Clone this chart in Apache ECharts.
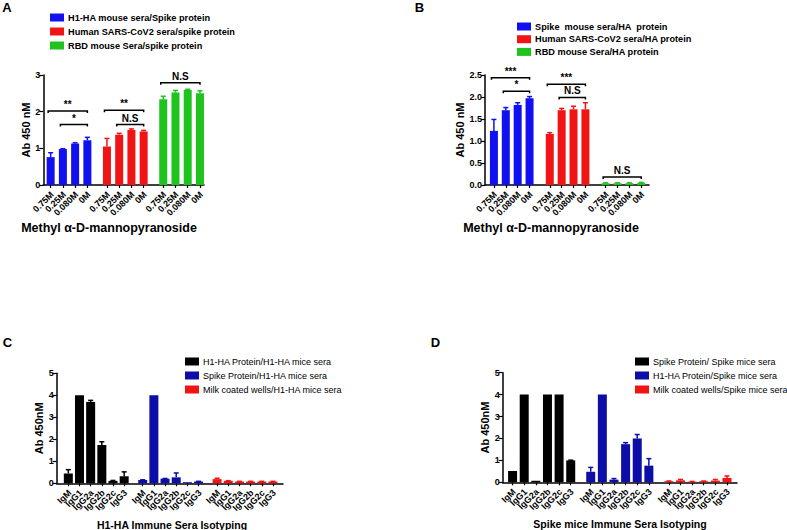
<!DOCTYPE html>
<html><head><meta charset="utf-8">
<script src="https://cdn.jsdelivr.net/npm/echarts@6/dist/echarts.min.js"></script>
<style>html,body{margin:0;padding:0;background:#fff}#c{width:787px;height:530px}</style>
</head><body><div id="c"></div>
<script>
// ---------- shared category labels ----------
const concLabels = ['0.75M', '0.25M', '0.080M', '0M'];
const isoLabels = ['IgM', 'IgG1', 'IgG2a', 'IgG2b', 'IgG2c', 'IgG3'];

// ---------- Panel A ----------
const aNames = ['H1-HA mouse sera/Spike protein', 'Human SARS-CoV2 sera/spike protein', 'RBD mouse Sera/spike protein'];
const aH1 = [0.76, 0.98, 1.13, 1.22];
const aH1Err = [0.12, 0.01, 0.02, 0.08];
const aHuman = [1.05, 1.37, 1.50, 1.46];
const aHumanErr = [0.22, 0.04, 0.03, 0.03];
const aRBD = [2.34, 2.52, 2.59, 2.50];
const aRBDErr = [0.08, 0.06, 0.02, 0.07];
const aSig = [[0, 0, 3, 2.02], [0, 1, 3, 1.65], [1, 0, 3, 2.04], [1, 1, 3, 1.65], [2, 0, 3, 2.79]];
const aSigText = ['**', '*', '**', 'N.S', 'N.S'];

// ---------- Panel B ----------
const bNames = ['Spike  mouse sera/HA  protein', 'Human SARS-CoV2 sera/HA protein', 'RBD mouse Sera/HA protein'];
const bSpike = [1.23, 1.70, 1.82, 1.97];
const bSpikeErr = [0.26, 0.06, 0.05, 0.04];
const bHuman = [1.16, 1.70, 1.72, 1.72];
const bHumanErr = [0.03, 0.04, 0.07, 0.15];
const bRBD = [0.04, 0.04, 0.04, 0.05];
const bRBDErr = [0.01, 0.01, 0.01, 0.01];
const bSig = [[0, 0, 3, 2.44], [0, 1, 3, 2.13], [1, 0, 3, 2.29], [1, 1, 3, 1.99], [2, 0, 3, 0.18]];
const bSigText = ['***', '*', '***', 'N.S', 'N.S'];

// ---------- Panel C ----------
const cNames = ['H1-HA Protein/H1-HA mice sera', 'Spike Protein/H1-HA mice sera', 'Milk coated wells/H1-HA mice sera'];
const cH1 = [0.45, 4.0, 3.70, 1.74, 0.11, 0.32];
const cH1Err = [0.17, 0, 0.07, 0.15, 0.02, 0.20];
const cSpike = [0.15, 4.0, 0.21, 0.27, 0.05, 0.08];
const cSpikeErr = [0.01, 0, 0.01, 0.20, 0, 0.01];
const cMilk = [0.19, 0.11, 0.08, 0.08, 0.08, 0.08];
const cMilkErr = [0.04, 0.01, 0.01, 0.01, 0.01, 0.01];

// ---------- Panel D ----------
const dNames = ['Spike Protein/ Spike mice sera', 'H1-HA Protein/Spike mice sera', 'Milk coated wells/Spike mice sera'];
const dSpike = [0.51, 4.0, 0.07, 4.0, 4.0, 1.0];
const dSpikeErr = [0, 0, 0, 0, 0, 0.01];
const dH1 = [0.48, 4.0, 0.12, 1.74, 2.0, 0.76];
const dH1Err = [0.20, 0, 0.05, 0.07, 0.18, 0.32];
const dMilk = [0.05, 0.09, 0.03, 0.05, 0.08, 0.20];
const dMilkErr = [0.01, 0.04, 0.01, 0.01, 0.05, 0.09];

// ---------- texts ----------
const panelLetters = ['A', 'B', 'C', 'D'];
const xTitles = ['Methyl \u03b1-D-mannopyranoside', 'Methyl \u03b1-D-mannopyranoside', 'H1-HA Immune Sera Isotyping', 'Spike mice Immune Sera Isotyping'];
const yTitles = ['Ab 450 nM', 'Ab 450 nM', 'Ab 450nM', 'Ab 450nM'];

const FONT = '"Liberation Sans", Arial, Helvetica, sans-serif';
const BLUE = '#1010f0', RED = '#f01414', GREEN = '#1ec31e', DBLUE = '#0d0da8', BLACK = '#000000';

// ---------- layout per panel (styles only) ----------
const panels = [
  { grid: { left: 43.3, top: 75, width: 160.7, height: 110 }, padStart: 0.6, gap: 1.6, padEnd: 0.33,
    labels: concLabels, names: aNames, colors: [BLUE, RED, GREEN],
    values: [aH1, aHuman, aRBD], errs: [aH1Err, aHumanErr, aRBDErr],
    sig: aSig, sigText: aSigText, yMax: 3, yInt: 1, yDec: 0, barW: 8, nameGap: 12,
    legend: { left: 50, top: 13, itemGap: 5, bold: true },
    letter: [7, 7.5], title: [109, 228, 12.5] },
  { grid: { left: 485, top: 75, width: 164, height: 110 }, padStart: 0.75, gap: 1.7, padEnd: 0.65,
    labels: concLabels, names: bNames, colors: [BLUE, RED, GREEN],
    values: [bSpike, bHuman, bRBD], errs: [bSpikeErr, bHumanErr, bRBDErr],
    sig: bSig, sigText: bSigText, yMax: 2.5, yInt: 0.5, yDec: 1, barW: 8, nameGap: 18,
    legend: { left: 517, top: 22, itemGap: 3.7, bold: true },
    letter: [419.5, 7.5], title: [551, 228, 12.5] },
  { grid: { left: 56.7, top: 373.3, width: 226.3, height: 110 }, padStart: 1.04, gap: 1.66, padEnd: 0.9,
    labels: isoLabels, names: cNames, colors: [BLACK, DBLUE, RED],
    values: [cH1, cSpike, cMilk], errs: [cH1Err, cSpikeErr, cMilkErr],
    sig: [], sigText: [], yMax: 5, yInt: 1, yDec: 0, barW: 9, nameGap: 11,
    legend: { left: 185, top: 357, itemGap: 5, bold: false },
    letter: [7.5, 342], title: [172, 524.5, 10.5] },
  { grid: { left: 502.7, top: 372.7, width: 234.3, height: 109.6 }, padStart: 0.85, gap: 1.72, padEnd: 0.86,
    labels: isoLabels, names: dNames, colors: [BLACK, DBLUE, RED],
    values: [dSpike, dH1, dMilk], errs: [dSpikeErr, dH1Err, dMilkErr],
    sig: [], sigText: [], yMax: 5, yInt: 1, yDec: 0, barW: 9, nameGap: 12,
    legend: { left: 635, top: 357, itemGap: 5, bold: false },
    letter: [435.5, 342.5], title: [620, 523.5, 10.5] }
];

const option = { animation: false, grid: [], xAxis: [], yAxis: [], series: [], legend: [], graphic: [] };

panels.forEach((p, k) => {
  const n = p.labels.length;
  const step = n - 1 + p.gap;
  const pos = (g, i) => +(g * step + i).toFixed(4);
  const allPos = [], labelData = [];
  for (let g = 0; g < 3; g++) for (let i = 0; i < n; i++) {
    const x = pos(g, i); allPos.push(x); labelData.push([x, 0, i]);
  }
  option.grid.push(Object.assign({ containLabel: false }, p.grid));
  option.xAxis.push({
    type: 'value', gridIndex: k, min: -p.padStart, max: pos(2, n - 1) + p.padEnd,
    splitLine: { show: false },
    axisLine: { show: true, onZero: false, lineStyle: { color: '#000', width: 1.5 } },
    axisTick: { show: true, customValues: allPos, length: 3, lineStyle: { color: '#000', width: 1.2 } },
    axisLabel: { show: false }
  });
  option.yAxis.push({
    type: 'value', gridIndex: k, min: 0, max: p.yMax, interval: p.yInt,
    name: yTitles[k], nameLocation: 'middle', nameGap: p.nameGap,
    nameTextStyle: { fontSize: 11, fontWeight: 'bold', fontFamily: FONT, color: '#000' },
    splitLine: { show: false },
    axisLine: { show: true, onZero: false, lineStyle: { color: '#000', width: 1.5 } },
    axisTick: { show: true, length: 4, lineStyle: { color: '#000', width: 1.2 } },
    axisLabel: { margin: 3, color: '#000', fontSize: 9, fontWeight: 'bold', fontFamily: FONT,
      showMinLabel: true, showMaxLabel: true,
      formatter: v => (+v).toFixed(p.yDec) }
  });
  // rotated category labels, placed through the x scale
  const labs = p.labels;
  option.series.push({
    type: 'custom', xAxisIndex: k, yAxisIndex: k, silent: true, z: 5, clip: false,
    encode: { x: 0, y: 1 },
    data: labelData,
    renderItem: (params, api) => {
      const c = api.coord([api.value(0), api.value(1)]);
      return { type: 'text', x: c[0] + 1.5, y: c[1] + 8, rotation: Math.PI / 4,
        style: { text: labs[api.value(2)], x: 0, y: 0, align: 'right', verticalAlign: 'middle',
          textAlign: 'right', textVerticalAlign: 'middle', font: 'bold 9px ' + FONT, fill: '#000' } };
    }
  });
  for (let g = 0; g < 3; g++) {
    option.series.push({
      type: 'bar', name: p.names[g], xAxisIndex: k, yAxisIndex: k,
      barWidth: p.barW, barGap: '-100%',
      itemStyle: { color: p.colors[g] },
      data: p.values[g].map((v, i) => [pos(g, i), v])
    });
    const col = p.colors[g];
    option.series.push({
      type: 'custom', xAxisIndex: k, yAxisIndex: k, silent: true, z: 3,
      encode: { x: 0, y: 1 },
      data: p.values[g].map((v, i) => [pos(g, i), v, p.errs[g][i]]),
      renderItem: (params, api) => {
        const x = api.value(0), m = api.value(1), e = api.value(2);
        if (!e) return null;
        const b = api.coord([x, m]), t = api.coord([x, m + e]);
        return { type: 'group', children: [
          { type: 'line', shape: { x1: b[0], y1: b[1], x2: t[0], y2: t[1] }, style: { stroke: col, lineWidth: 1.5 } },
          { type: 'line', shape: { x1: t[0] - 2.5, y1: t[1], x2: t[0] + 2.5, y2: t[1] }, style: { stroke: col, lineWidth: 1.5 } }
        ] };
      }
    });
  }
  if (p.sig.length) {
    const texts = p.sigText;
    const bw = p.barW;
    option.series.push({
      type: 'custom', xAxisIndex: k, yAxisIndex: k, silent: true, z: 4,
      encode: { x: [0, 1], y: 2 },
      data: p.sig.map(s => [pos(s[0], s[1]), pos(s[0], s[2]), s[3]]),
      renderItem: (params, api) => {
        const a = api.coord([api.value(0), api.value(2)]);
        const b = api.coord([api.value(1), api.value(2)]);
        const x1 = a[0] - bw / 2 + 1.5, x2 = b[0], y = a[1];
        return { type: 'group', children: [
          { type: 'polyline', shape: { points: [[x1, y + 2], [x1, y], [x2, y], [x2, y + 2]] },
            style: { stroke: '#000', lineWidth: 1.5, fill: 'none' } },
          { type: 'text', style: { text: texts[params.dataIndex], x: (x1 + x2) / 2, y: y - 1.5,
              align: 'center', verticalAlign: 'bottom', textAlign: 'center', textVerticalAlign: 'bottom',
              font: 'bold 10px ' + FONT, fill: '#000' } }
        ] };
      }
    });
  }
  option.legend.push({
    data: p.names, orient: 'vertical', left: p.legend.left, top: p.legend.top, padding: 0,
    itemWidth: 14, itemHeight: 8, itemGap: p.legend.itemGap, icon: 'rect', selectedMode: false,
    textStyle: { fontSize: p.legend.bold ? 9.2 : 9, fontWeight: p.legend.bold ? 'bold' : 'normal',
      fontFamily: FONT, color: '#000', padding: [0, 0, 0, -1] }
  });
  option.graphic.push({
    type: 'text', x: p.letter[0], y: p.letter[1],
    style: { text: panelLetters[k], x: 0, y: 0, align: 'center', verticalAlign: 'middle',
      textAlign: 'center', textVerticalAlign: 'middle', font: 'bold 13px ' + FONT, fill: '#000' }
  });
  option.graphic.push({
    type: 'text', x: p.title[0], y: p.title[1],
    style: { text: xTitles[k], x: 0, y: 0, align: 'center', verticalAlign: 'middle',
      textAlign: 'center', textVerticalAlign: 'middle', font: 'bold ' + p.title[2] + 'px ' + FONT, fill: '#000' }
  });
});

const chart = echarts.init(document.getElementById('c'), null, { renderer: 'svg', width: 787, height: 530 });
chart.setOption(option);
</script></body></html>
